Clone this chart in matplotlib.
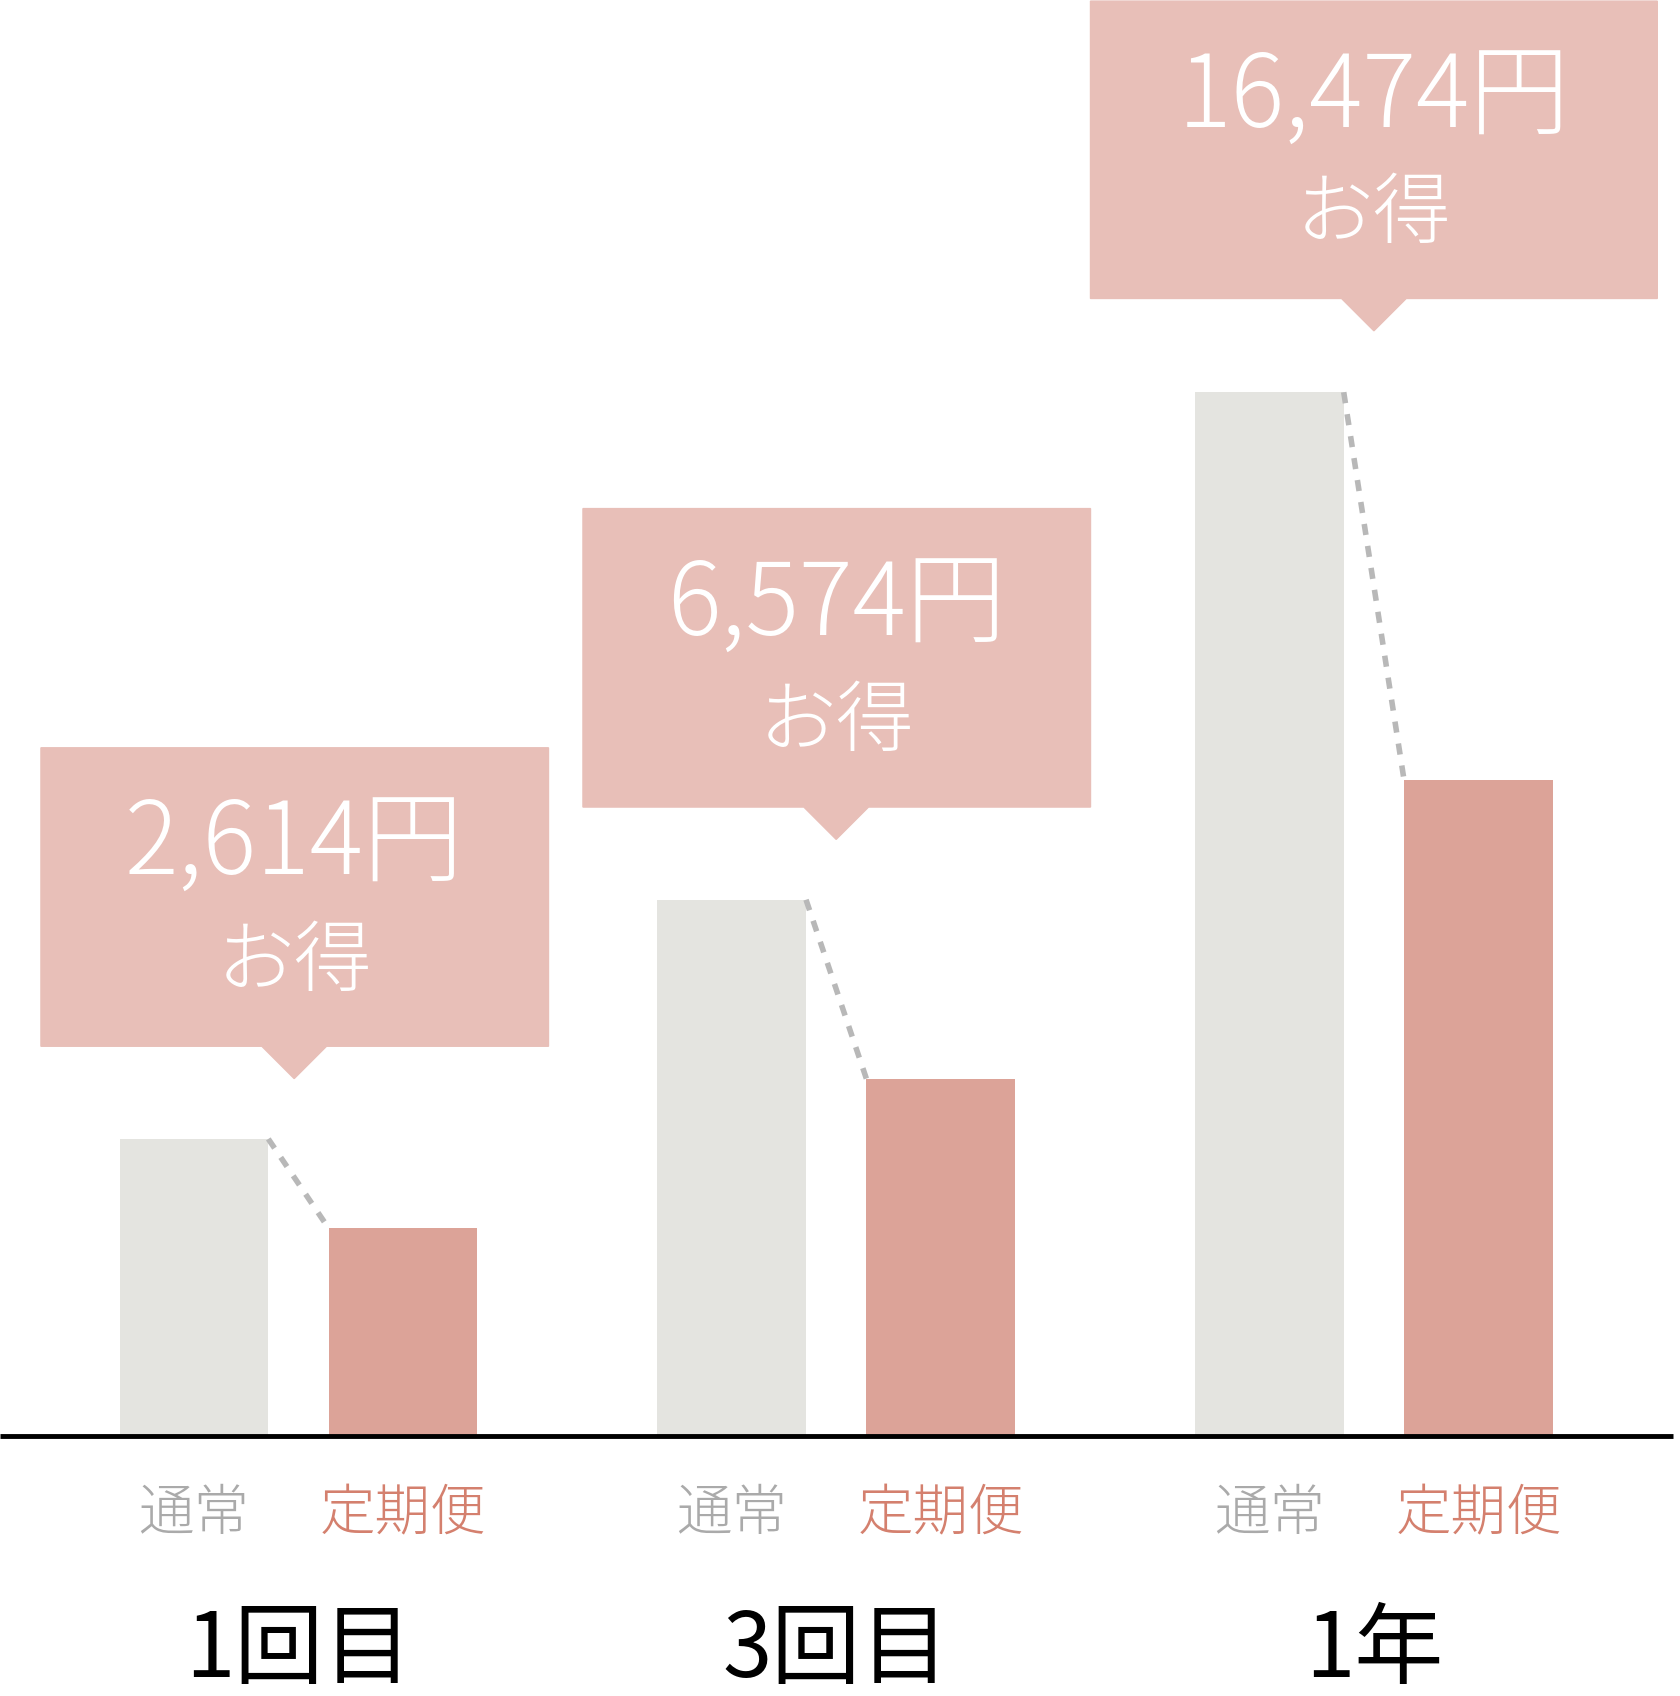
import matplotlib
matplotlib.use("Agg")
import matplotlib.pyplot as plt
from matplotlib.patches import Polygon

categories = ["1回目", "3回目", "1年"]
normal = [276, 498, 969]
teiki = [193, 332, 609]
savings = ["2,614円", "6,574円", "16,474円"]

FONT = ['Noto Sans CJK JP', 'DejaVu Sans']
plt.rcParams['font.family'] = FONT

fig = plt.figure(figsize=(16.81, 16.96), dpi=100)
ax = fig.add_axes([0, 0, 1, 1])
ax.set_xlim(0, 1560)
ax.set_ylim(-241, 1333)
ax.axis('off')

step = 499
w = 138
c_norm, c_teiki, c_box = "#e4e4e0", "#dca398", "#e8bfb8"
box_specs = [(38, 509, 639, 362, 273), (541, 1012, 861, 584, 776), (1012, 1538, 1332, 1056, 1275)]

for i, cat in enumerate(categories):
    xn = 180 + i * step
    xt = 374 + i * step
    ax.bar(xn, normal[i], width=w, color=c_norm, zorder=2)
    ax.bar(xt, teiki[i], width=w, color=c_teiki, zorder=2)
    ax.plot([xn + w / 2, xt - w / 2], [normal[i], teiki[i]], ls=(0, (2, 2)),
            color="#b8b8b8", lw=4, zorder=3)
    ax.text(xn, -72, "通常", ha='center', va='center', fontsize=40,
            color="#aaaaaa", fontweight='light')
    ax.text(xt, -72, "定期便", ha='center', va='center', fontsize=40,
            color="#d4806e", fontweight='light')
    ax.text((xn + xt) / 2, -200, cat, ha='center', va='center', fontsize=64,
            color="black")
    x0, x1, top, bot, cx = box_specs[i]
    ax.add_patch(Polygon([(x0, top), (x1, top), (x1, bot), (cx + 30, bot),
                          (cx, bot - 30), (cx - 30, bot), (x0, bot)],
                         closed=True, color=c_box, zorder=2))
    h = top - bot
    ax.text(cx, top - h * 0.33, savings[i], ha='center', va='center',
            fontsize=72, color='white', fontweight='light', zorder=4)
    ax.text(cx, top - h * 0.72, "お得", ha='center', va='center',
            fontsize=56, color='white', fontweight='light', zorder=4)

ax.plot([0, 1553], [0, 0], color='black', lw=3.5, zorder=5, solid_capstyle='butt')

fig.savefig("out.png", dpi=100)
